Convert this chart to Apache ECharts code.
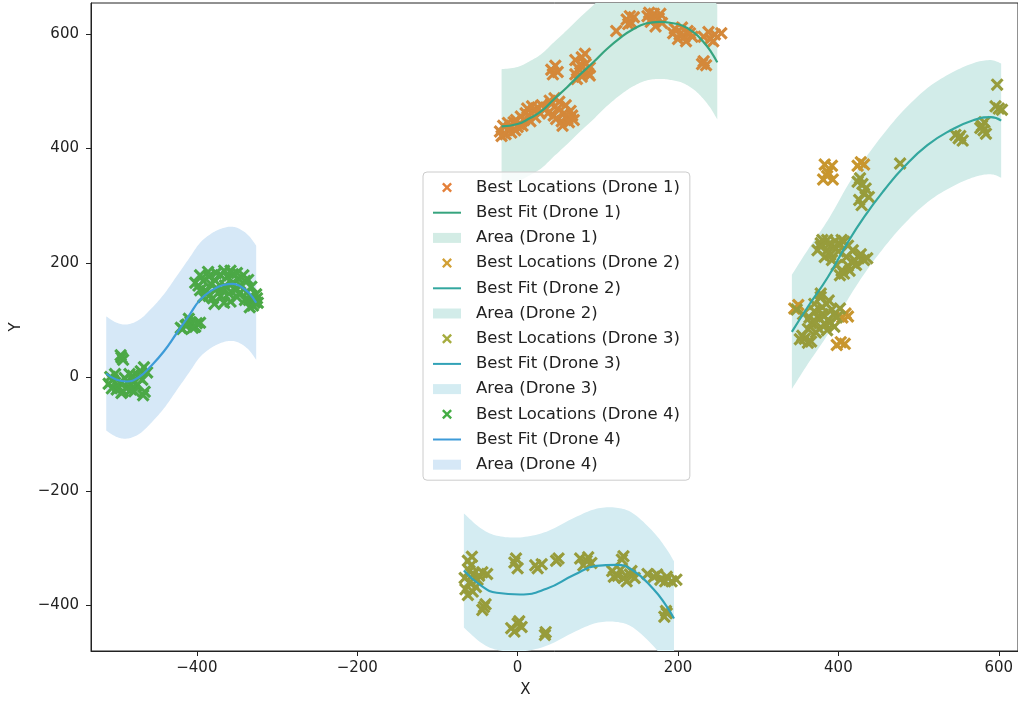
<!DOCTYPE html>
<html><head><meta charset="utf-8">
<script src="https://cdn.jsdelivr.net/npm/echarts@6/dist/echarts.min.js"></script>
<style>html,body{margin:0;padding:0;background:#fff}#c{width:1018px;height:703px}</style>
</head><body><div id="c"></div>
<script>
// ---------- DATA ----------
const xTicks = [-400, -200, 0, 200, 400, 600];
const yTicks = [-400, -200, 0, 200, 400, 600];
const droneNames = ['Drone 1', 'Drone 2', 'Drone 3', 'Drone 4'];

const drone1Points = [
  [-22,430],[-15,425],[-10,436],[-3,432],[2,443],[8,450],[-5,446],[14,458],[20,466],[12,470],[25,472],[28,462],[-18,440],
  [-20,422],[-8,428],[0,438],[6,440],[16,448],[22,455],[-12,445],[10,462],[18,474],[30,476],[4,456],[-2,450],
  [35,470],[42,478],[50,470],[58,462],[62,452],[55,448],[45,458],[68,458],[40,484],[52,482],
  [60,476],[66,466],[48,452],[56,440],[64,446],[38,462],[46,488],[70,450],
  [42,538],[50,534],[47,545],[44,530],
  [72,555],[80,560],[85,548],[76,540],[88,532],[80,526],[90,542],[72,530],[84,566],[78,548],[90,528],[74,522],
  [123,606],
  [136,626],[142,620],[145,630],[138,618],[140,632],
  [162,632],[170,636],[176,628],[166,622],[180,620],[172,614],[164,638],[178,636],[168,628],
  [196,610],[202,600],[208,596],[212,606],[200,592],[215,602],[205,612],[194,602],[210,588],[218,596],
  [232,596],[240,592],[246,600],[238,604],[244,588],[254,602],
  [232,553],[235,546],[230,548]
];
const drone2Points = [
  [383,372],[392,370],[387,358],[381,346],[393,346],[386,352],
  [428,376],[424,370],[432,372],
  [409,111],[405,104],[412,106],[403,61],[398,56],[408,58],[345,120],[350,126]
];
const drone3Points = [
  // right cluster (olive)
  [427,348],[424,342],[432,321],[426,310],[438,315],[429,301],[434,330],[430,338],[477,374],
  [550,418],[546,424],[555,414],[552,422],[581,432],[579,440],[584,426],[577,436],[582,446],
  [600,470],[596,474],[604,468],[598,512],
  [378,234],[395,228],[407,237],[383,210],[420,205],[432,205],[407,181],[390,214],[374,222],
  [400,220],[412,195],[386,240],[402,232],[425,210],[404,186],
  [380,240],[388,232],[396,238],[404,240],[412,230],[418,222],[428,215],[436,208],[422,196],
  [414,186],[402,178],[398,196],[386,222],[378,228],[392,205],[410,210],[418,200],
  [378,140],[374,105],[387,100],[366,94],[395,88],[358,67],[362,60],[380,110],[370,115],
  [392,118],[384,92],[376,84],[355,72],[385,128],
  [348,118],[356,110],[364,104],[372,96],[382,106],[390,96],[398,104],[370,128],[380,122],
  [388,134],[378,146],[362,84],[372,78],[386,82],[395,110],[402,120],[352,66],[366,62],
  // bottom cluster
  [-62,-322],[-58,-330],[-55,-345],[-60,-360],[-65,-372],[-62,-382],[-50,-355],[-44,-342],
  [-38,-345],[-52,-368],[-57,-315],[-60,-340],[-66,-352],[-56,-376],[-48,-348],
  [-42,-403],[-40,-398],[-44,-408],
  [-4,-325],[0,-335],[-2,-318],[25,-335],[30,-328],[22,-330],[51,-318],[48,-322],
  [78,-318],[86,-322],[92,-326],[82,-330],[88,-316],[130,-320],[132,-314],
  [118,-340],[125,-348],[132,-352],[140,-346],[146,-352],[128,-338],[136,-358],[120,-350],[142,-340],
  [162,-345],[170,-350],[178,-355],[186,-350],[192,-358],[198,-355],[174,-346],[184,-358],
  [185,-410],[183,-420],[186,-414],
  [-8,-440],[0,-432],[5,-438],[-4,-446],[2,-428],[34,-452],[35,-447]
];
const drone4Points = [
  [-495,38],[-492,30],[-494,34],
  [-510,-12],[-505,-5],[-498,-18],[-492,-25],[-486,-8],[-480,2],[-475,-15],[-470,10],
  [-466,17],[-500,-22],[-482,-22],[-490,-2],[-467,-32],[-465,-26],
  [-506,-20],[-502,5],[-496,-10],[-488,-20],[-484,5],[-478,-8],[-472,0],[-468,-5],[-462,8],
  [-508,0],[-494,-28],[-478,-25],
  [-414,90],[-408,96],[-402,88],[-410,102],[-396,95],[-420,86],[-418,84],[-412,92],[-405,86],[-400,94],
  [-398,160],[-392,168],[-385,176],[-378,170],[-370,178],[-362,176],[-355,180],[-348,172],
  [-340,168],[-345,160],[-352,152],[-360,146],[-370,142],[-380,138],[-388,150],[-392,140],
  [-375,155],[-335,135],[-328,130],[-338,148],[-365,160],[-330,125],[-325,138],
  [-402,165],[-396,178],[-386,184],[-376,182],[-366,186],[-358,186],[-350,182],[-342,178],
  [-336,170],[-332,158],[-350,140],[-358,132],[-366,130],[-378,128],[-385,142],[-396,152],
  [-382,162],[-368,152],[-356,164],[-346,148],[-334,122],[-324,130],[-326,145],[-340,135]
];

const drone1FitX  = [-20, 0, 15, 30, 45, 62, 78, 95, 111, 128, 144, 160, 177, 192, 206, 220, 231, 241, 249];
const drone1FitY  = [439, 443, 453, 466, 486, 508, 530, 552, 574, 594, 609, 619, 622, 620, 615, 603, 588, 570, 551];
const drone1Upper = [539, 543, 553, 566, 586, 608, 630, 652, 674, 694, 709, 719, 722, 720, 715, 703, 688, 670, 651];
const drone1Lower = [339, 343, 353, 366, 386, 408, 430, 452, 474, 494, 509, 519, 522, 520, 515, 503, 488, 470, 451];

const drone2FitX  = [342, 362, 387, 411, 432, 457, 482, 511, 540, 569, 590, 603];
const drone2FitY  = [79, 123, 175, 234, 280, 327, 368, 406, 432, 450, 455, 449];
const drone2Upper = [179, 223, 275, 334, 380, 427, 468, 506, 532, 550, 555, 549];
const drone2Lower = [-21, 23, 75, 134, 180, 227, 268, 306, 332, 350, 355, 349];

const drone3FitX  = [-67, -46, -26, 3, 36, 70, 98, 123, 144, 169, 185, 195];
const drone3FitY  = [-339, -365, -378, -381, -371, -347, -331, -329, -339, -371, -400, -423];
const drone3Upper = [-239, -265, -278, -281, -271, -247, -231, -229, -239, -271, -300, -323];
const drone3Lower = [-439, -465, -478, -481, -471, -447, -431, -429, -439, -471, -500, -523];

const drone4FitX  = [-513, -500, -487, -472, -458, -441, -425, -410, -396, -381, -367, -355, -345, -335, -326];
const drone4FitY  = [6, -5, -8, 0, 18, 45, 77, 107, 135, 152, 161, 163, 158, 147, 130];
const drone4Upper = [106, 95, 92, 100, 118, 145, 177, 207, 235, 252, 261, 263, 258, 247, 230];
const drone4Lower = [-94, -105, -108, -100, -82, -55, -23, 7, 35, 52, 61, 63, 58, 47, 30];

// ---------- STYLE ----------
const FONT = 'DejaVu Sans';
const TXT = '#222222';
const XMARK = 'path://M0,1.7L1.7,0L5,3.3L8.3,0L10,1.7L6.7,5L10,8.3L8.3,10L5,6.7L1.7,10L0,8.3L3.3,5Z';
const markerColors = ['#d4883a', '#c8962e', '#979c3b', '#4ba846'];
const legendMarkerColors = ['#e4803a', '#d2a035', '#a6ac3e', '#44ad44'];
const lineColors = ['#36a47e', '#33a79f', '#31a2b7', '#3d9bd8'];
const areaColors = ['#d3ece5', '#d2ece9', '#d4ecf2', '#d6e8f7'];

const points = [drone1Points, drone2Points, drone3Points, drone4Points];
const fits = [
  [drone1FitX, drone1FitY, drone1Upper, drone1Lower],
  [drone2FitX, drone2FitY, drone2Upper, drone2Lower],
  [drone3FitX, drone3FitY, drone3Upper, drone3Lower],
  [drone4FitX, drone4FitY, drone4Upper, drone4Lower]
];

// Catmull-Rom smoothing of an already projected (pixel) polyline, used for drawing only
function smoothPixels(p) {
  const out = [];
  const n = p.length;
  for (let i = 0; i < n - 1; i++) {
    const p0 = p[Math.max(i - 1, 0)], p1 = p[i], p2 = p[i + 1], p3 = p[Math.min(i + 2, n - 1)];
    for (let s = 0; s < 10; s++) {
      const t = s / 10, t2 = t * t, t3 = t2 * t;
      const f = k => 0.5 * ((2 * p1[k]) + (-p0[k] + p2[k]) * t +
        (2 * p0[k] - 5 * p1[k] + 4 * p2[k] - p3[k]) * t2 + (-p0[k] + 3 * p1[k] - 3 * p2[k] + p3[k]) * t3);
      out.push([f(0), f(1)]);
    }
  }
  out.push(p[n - 1]);
  return out;
}

function bandSeries(name, xs, hi, lo, color) {
  return {
    type: 'custom', name: name, silent: true, clip: true, z: 1,
    data: xs.map((x, i) => [x, lo[i], hi[i]]),
    encode: { x: 0, y: [1, 2] },
    renderItem: function (params, api) {
      if (params.dataIndex !== 0) return null;
      const up = xs.map((x, i) => api.coord([x, hi[i]]));
      const dn = xs.map((x, i) => api.coord([x, lo[i]]));
      const pts = smoothPixels(up).concat(smoothPixels(dn).reverse());
      const cs = params.coordSys;
      return {
        type: 'polygon', shape: { points: pts },
        style: { fill: color, stroke: null },
        clipPath: { type: 'rect', shape: { x: cs.x, y: cs.y, width: cs.width, height: cs.height } }
      };
    }
  };
}

const series = [];
droneNames.forEach((d, i) => {
  const f = fits[i];
  series.push(bandSeries('Area (' + d + ')', f[0], f[2], f[3], areaColors[i]));
});
droneNames.forEach((d, i) => {
  series.push({
    type: 'scatter', name: 'Best Locations (' + d + ')', data: points[i],
    symbol: XMARK, symbolSize: 13, z: 2, silent: true,
    itemStyle: { color: markerColors[i], opacity: 1 }
  });
});
droneNames.forEach((d, i) => {
  const f = fits[i];
  series.push({
    type: 'line', name: 'Best Fit (' + d + ')', data: f[0].map((x, k) => [x, f[1][k]]),
    smooth: true, symbol: 'none', showSymbol: false, z: 3, silent: true,
    lineStyle: { width: 2.2, color: lineColors[i] }, itemStyle: { color: lineColors[i] }
  });
});

const legendData = [];
droneNames.forEach((d, i) => {
  legendData.push({ name: 'Best Locations (' + d + ')', icon: XMARK, itemStyle: { color: legendMarkerColors[i], borderWidth: 0 } });
  legendData.push({ name: 'Best Fit (' + d + ')', icon: 'path://M0,0H28V2H0Z', itemStyle: { color: lineColors[i], borderWidth: 0 } });
  legendData.push({ name: 'Area (' + d + ')', icon: 'path://M0,0H28V10H0Z', itemStyle: { color: areaColors[i], borderWidth: 0 } });
});

const fmt = v => String(v).replace('-', '\u2212');
const axisCommon = {
  type: 'value',
  nameLocation: 'middle',
  nameTextStyle: { fontFamily: FONT, fontSize: 15, color: TXT },
  axisLine: { show: true, onZero: false, lineStyle: { color: TXT, width: 1 } },
  splitLine: { show: false }
};

const option = {
  animation: false,
  backgroundColor: '#ffffff',
  textStyle: { fontFamily: FONT },
  grid: { left: 91, top: 3, right: -3, bottom: 52, show: true, borderColor: TXT, borderWidth: 1, backgroundColor: 'transparent' },
  xAxis: Object.assign({}, axisCommon, {
    min: -532, max: 624, name: 'X', nameGap: 32,
    nameTextStyle: { fontFamily: FONT, fontSize: 15, color: TXT, padding: [0, 58, 0, 0] },
    axisTick: { show: true, length: 5, customValues: xTicks, lineStyle: { color: TXT } },
    axisLabel: { customValues: xTicks, fontFamily: FONT, fontSize: 15, color: TXT, margin: 10, formatter: fmt }
  }),
  yAxis: Object.assign({}, axisCommon, {
    min: -480, max: 655, name: 'Y', nameGap: 67,
    axisTick: { show: true, length: 5, customValues: yTicks, lineStyle: { color: TXT } },
    axisLabel: { customValues: yTicks, fontFamily: FONT, fontSize: 15, color: TXT, margin: 12, formatter: fmt }
  }),
  legend: {
    data: legendData, orient: 'vertical', left: 423, top: 172,
    padding: [7, 10, 7, 10], itemGap: 8.2, itemWidth: 28, itemHeight: 10,
    selectedMode: false,
    backgroundColor: 'rgba(255,255,255,0.8)', borderColor: '#cccccc', borderWidth: 1, borderRadius: 4,
    textStyle: { fontFamily: FONT, fontSize: 16.5, color: TXT, lineHeight: 17, padding: [0, 0, 0, 10] }
  },
  series: series
};

const chart = echarts.init(document.getElementById('c'), null, { renderer: 'canvas' });
chart.setOption(option);
</script>
</body></html>
